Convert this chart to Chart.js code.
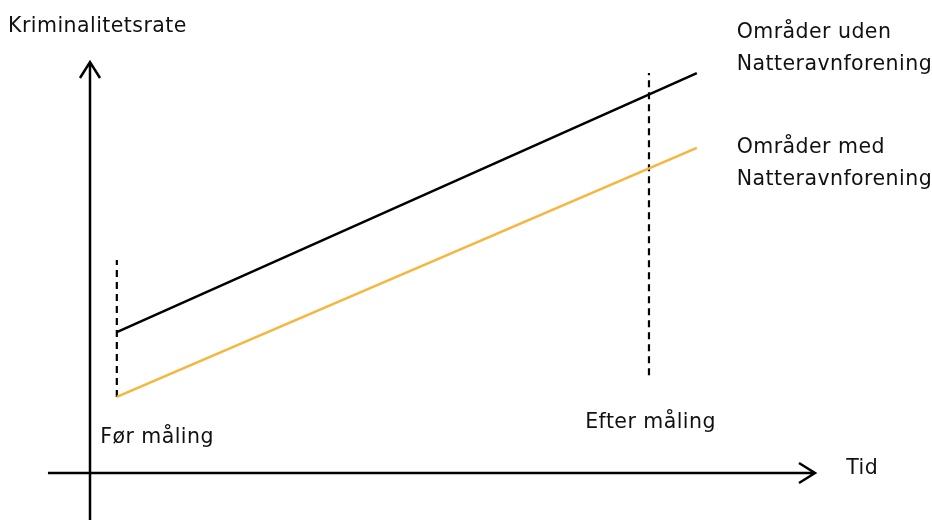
<!DOCTYPE html>
<html>
<head>
<meta charset="utf-8">
<script src="https://cdn.jsdelivr.net/npm/chart.js@4"></script>
<style>
  html, body { margin: 0; padding: 0; background: #fff; }
  #wrap { width: 932px; height: 520px; }
</style>
</head>
<body>
<div id="wrap"><canvas id="chart"></canvas></div>
<script>
// time axis: 0 = origin, 100 = arrow tip; rate axis the same
const timePoints = [3.7, 83.7];          // start (før) and end of the lines
const withoutAssoc = [34.3, 97.3];       // Områder uden Natteravnforening
const withAssoc = [18.5, 79.1];          // Områder med Natteravnforening
const beforeMark = { x: 3.7, y: [18.5, 51.8] };
const afterMark = { x: 77.1, y: [23.8, 97.3] };

const labels = [
  { text: 'Kriminalitetsrate', x: -11.3, y: 108.6 },
  { text: 'Områder uden', x: 89.2, y: 107.1 },
  { text: 'Natteravnforening', x: 89.2, y: 99.3 },
  { text: 'Områder med', x: 89.2, y: 79.1 },
  { text: 'Natteravnforening', x: 89.2, y: 71.3 },
  { text: 'Før måling', x: 1.4, y: 8.6 },
  { text: 'Efter måling', x: 68.3, y: 12.2 },
  { text: 'Tid', x: 104.3, y: 1.0 }
];

const pts = (xs, ys) => xs.map((x, i) => ({ x: x, y: ys[i] }));

// axes with arrowheads + text labels
const sketch = {
  id: 'sketch',
  afterDatasetsDraw(chart) {
    const { ctx } = chart;
    const xs = chart.scales.x, ys = chart.scales.y;
    const x0 = xs.getPixelForValue(0), y0 = ys.getPixelForValue(0);
    const xTip = xs.getPixelForValue(100), yTip = ys.getPixelForValue(100);
    ctx.save();
    ctx.strokeStyle = '#000';
    ctx.lineWidth = 2.5;
    ctx.beginPath();
    ctx.moveTo(x0, chart.height);
    ctx.lineTo(x0, yTip);
    ctx.moveTo(x0 - 10, yTip + 16);
    ctx.lineTo(x0, yTip);
    ctx.lineTo(x0 + 10, yTip + 16);
    ctx.moveTo(xs.getPixelForValue(-5.8), y0);
    ctx.lineTo(xTip, y0);
    ctx.moveTo(xTip - 16, y0 - 10);
    ctx.lineTo(xTip, y0);
    ctx.lineTo(xTip - 16, y0 + 10);
    ctx.stroke();

    ctx.fillStyle = '#111';
    ctx.font = '20.5px "DejaVu Sans", Verdana, sans-serif';
    ctx.letterSpacing = '0.45px';
    ctx.textBaseline = 'middle';
    ctx.textAlign = 'left';
    labels.forEach(l => {
      ctx.fillText(l.text, xs.getPixelForValue(l.x), ys.getPixelForValue(l.y));
    });
    ctx.restore();
  }
};

new Chart(document.getElementById('chart'), {
  type: 'line',
  data: {
    datasets: [
      {
        label: 'Områder uden Natteravnforening',
        data: pts(timePoints, withoutAssoc),
        borderColor: '#000',
        borderWidth: 2.5
      },
      {
        label: 'Områder med Natteravnforening',
        data: pts(timePoints, withAssoc),
        borderColor: '#f8b43c',
        borderWidth: 2.5
      },
      {
        label: 'Før måling',
        data: [{ x: beforeMark.x, y: beforeMark.y[0] }, { x: beforeMark.x, y: beforeMark.y[1] }],
        borderColor: '#000',
        borderWidth: 2.2,
        borderDash: [7, 5]
      },
      {
        label: 'Efter måling',
        data: [{ x: afterMark.x, y: afterMark.y[0] }, { x: afterMark.x, y: afterMark.y[1] }],
        borderColor: '#000',
        borderWidth: 2.2,
        borderDash: [7, 5]
      }
    ]
  },
  options: {
    responsive: true,
    maintainAspectRatio: false,
    animation: false,
    layout: { padding: { left: 90, right: 117, top: 62, bottom: 47 } },
    elements: { point: { radius: 0 }, line: { tension: 0 } },
    scales: {
      x: { type: 'linear', min: 0, max: 100, display: false },
      y: { type: 'linear', min: 0, max: 100, display: false }
    },
    plugins: {
      legend: { display: false },
      tooltip: { enabled: false }
    }
  },
  plugins: [sketch]
});
</script>
</body>
</html>
